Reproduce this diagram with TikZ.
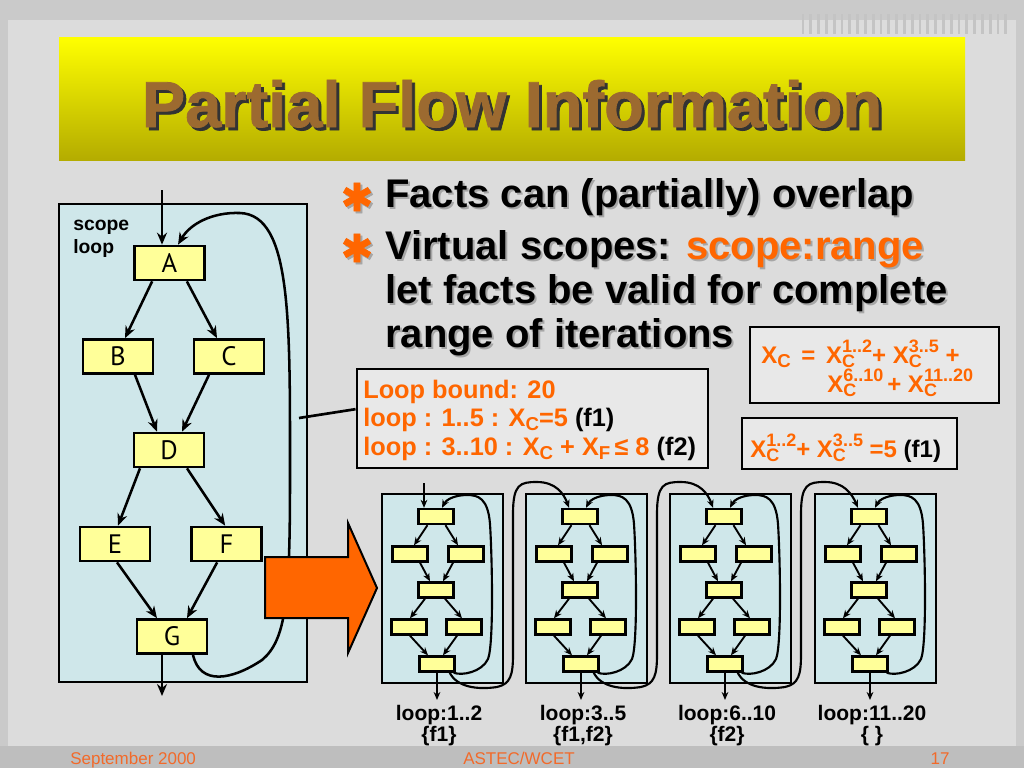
\documentclass[tikz,border=0pt]{standalone}
\usepackage{fontspec}
\setmainfont{Liberation Sans}
\newfontfamily\ptsans{PT Sans}
\newfontfamily\djv{DejaVu Sans}
\usetikzlibrary{arrows.meta}
\definecolor{bgpanel}{HTML}{DCDCDC}
\definecolor{bgouter}{HTML}{CACACA}
\definecolor{bgfoot}{HTML}{BEBEBE}
\definecolor{org}{HTML}{FF6600}
\definecolor{footorg}{HTML}{F26A2A}
\definecolor{nodey}{HTML}{FFFF99}
\definecolor{scopec}{HTML}{CFE7EA}
\definecolor{titlebr}{HTML}{9C6A30}
\definecolor{boxg}{HTML}{E8E8E8}
\definecolor{shadowg}{HTML}{A6A6A6}
\definecolor{stripec}{HTML}{C4C4C4}
\newcommand\subX[1]{X\raisebox{-3.6pt}{\fontsize{14}{14}\selectfont #1}}
\newcommand\supsubX[2]{X\makebox[0pt][l]{\raisebox{-3.4pt}{\fontsize{13.5}{14}\selectfont #1}}\raisebox{8.25pt}{\fontsize{13.5}{14}\selectfont #2}}
\begin{document}
\begin{tikzpicture}[x=0.75pt,y=-0.75pt,
  txt/.style={inner sep=0pt, anchor=base west},
  bignode/.style={draw=black, fill=nodey, line width=2pt, minimum width=52.5pt, minimum height=25.5pt, inner sep=0pt, font=\ptsans\fontsize{20}{20}\selectfont},
  smallnode/.style={draw=black, fill=nodey, line width=1.8pt, minimum width=26.25pt, minimum height=11.25pt, inner sep=0pt},
  scopebox/.style={draw=black, fill=scopec, line width=1.5pt, inner sep=0pt},
  factbox/.style={draw=black, fill=boxg, line width=2.2pt, inner sep=0pt},
  bigedge/.style={line width=1.9pt, -{Stealth[length=9pt,width=7.5pt]}},
  smalledge/.style={line width=1.4pt, -{Stealth[length=6pt,width=5pt]}},
  loopedge/.style={line width=1.6pt, -{Stealth[length=6pt,width=5pt]}},
  boxfont/.style={font=\bfseries\fontsize{18}{20}\selectfont, text=org},
  lbfont/.style={font=\bfseries\fontsize{19}{20}\selectfont, text=org},
  bulfont/.style={font=\bfseries\fontsize{30}{32}\selectfont},
  astfont/.style={font=\djv\fontsize{29}{29}\selectfont\addfontfeature{FakeBold=1.5}},
  labfont/.style={font=\bfseries\fontsize{15.75}{17}\selectfont},
  footfont/.style={font=\fontsize{12.75}{14}\selectfont, text=footorg}
]
\useasboundingbox (0,0) rectangle (1024,768);
% background
\fill[bgouter] (0,0) rectangle (1024,768);
\fill[bgpanel] (8,20) rectangle (1016,746);
\fill[bgfoot] (0,746) rectangle (1024,768);
\foreach \k in {0,...,26} {
  \draw[stripec, line width=2.2pt] ({803+\k*7.8},14) -- ({803+\k*7.8},34);
}
% title band
\shade[top color={rgb,255:red,255;green,255;blue,0}, middle color={rgb,255:red,238;green,232;blue,0}, bottom color={rgb,255:red,180;green,172;blue,0}] (59,37) rectangle (965,160);
\node[txt, anchor=base, text=black!80, font=\bfseries\fontsize{48.75}{50}\selectfont\addfontfeature{FakeBold=1.2}] (titleshadow) at (515,130) {Partial Flow Information};
\node[txt, anchor=base, text=titlebr, font=\bfseries\fontsize{48.75}{50}\selectfont\addfontfeature{FakeBold=1.2}] (title) at (512,127) {Partial Flow Information};

% bullets
\node[txt, anchor=center, text=shadowg, astfont] (ast1s) at (359,199) {✱};
\node[txt, anchor=center, text=org, astfont] (ast1) at (357,197) {✱};
\node[txt, anchor=center, text=shadowg, astfont] (ast2s) at (359,250) {✱};
\node[txt, anchor=center, text=org, astfont] (ast2) at (357,248) {✱};
\node[txt, bulfont, text=shadowg] (t1s) at (387,209) {Facts can (partially) overlap};
\node[txt, bulfont] (t1) at (385,207) {Facts can (partially) overlap};
\node[txt, bulfont, text=shadowg] (t2s) at (387,261) {Virtual scopes: scope:range};
\node[txt, bulfont] (t2) at (385,259) {Virtual scopes: \textcolor{org}{scope:range}};
\node[txt, bulfont, text=shadowg] (t3s) at (387,305) {let facts be valid for complete};
\node[txt, bulfont] (t3) at (385,303) {let facts be valid for complete};
\node[txt, bulfont, text=shadowg] (t4s) at (387,349) {range of iterations};
\node[txt, bulfont] (t4) at (385,347) {range of iterations};

% big scope box
\node[scopebox, minimum width=186pt, minimum height=358.5pt] (scope) at (183,443) {};
\node[txt, font=\bfseries\fontsize{14.5}{15}\selectfont] (sc1) at (73,230) {scope};
\node[txt, font=\bfseries\fontsize{14.5}{15}\selectfont] (sc2) at (73,253) {loop};
\node[bignode] (A) at (169.5,263) {A};
\node[bignode] (B) at (118,356.5) {B};
\node[bignode] (C) at (229,356.5) {C};
\node[bignode] (D) at (169,450) {D};
\node[bignode] (E) at (115,544) {E};
\node[bignode] (F) at (226.5,544) {F};
\node[bignode] (G) at (172,636.5) {G};
\draw[bigedge] ([xshift=-13pt]A.south) -- ([xshift=5.25pt]B.north);
\draw[bigedge] ([xshift=13pt]A.south) -- ([xshift=-9pt]C.north);
\draw[bigedge] ([xshift=12.75pt]B.south) -- ([xshift=-9pt]D.north);
\draw[bigedge] ([xshift=-15pt]C.south) -- ([xshift=9.75pt]D.north);
\draw[bigedge] ([xshift=-21.75pt]D.south) -- ([xshift=2.25pt]E.north);
\draw[bigedge] ([xshift=13.5pt]D.south) -- ([xshift=-1pt]F.north);
\draw[bigedge] ([xshift=1.5pt]E.south) -- ([xshift=-11.25pt]G.north);
\draw[bigedge] ([xshift=-7pt]F.south) -- ([xshift=11.25pt]G.north);
\coordinate (inA) at (162,190);
\draw[bigedge] (inA) -- (A.north -| inA);
\coordinate (outG) at (162,696);
\draw[bigedge] (G.south -| outG) -- (outG);
\draw[bigedge] ([xshift=15.75pt]G.south) .. controls (200,686) and (232,680) .. (262,660)
  .. controls (286,640) and (290,600) .. (290,480)
  .. controls (290,320) and (292,215) .. (240,213)
  .. controls (212,212) and (190,224) .. ([xshift=6.4pt]A.north);

% orange arrow
\draw[fill=org, line width=1.5pt, line join=miter] (265,557) -- (348,557) -- (348,523) -- (377,588) -- (348,653) -- (348,618) -- (265,618) -- cycle;

% loop bound box
\node[factbox, minimum width=263.25pt, minimum height=74.25pt] (lb) at (532.5,418.5) {};
\coordinate (lbc) at (299,418);
\draw[line width=2pt] (lbc) -- ([yshift=7pt]lb.west);
\node[txt, lbfont] (lb1) at (363,398) {Loop bound: 20};
\node[txt, lbfont] (lb2) at (363,426) {loop : 1..5 : \subX{C}=5 \textcolor{black}{(f1)}};
\node[txt, lbfont] (lb3) at (363,455) {loop : 3..10 : \subX{C} + \subX{F}\,≤ 8 \textcolor{black}{(f2)}};

% X_C box
\node[factbox, minimum width=186.75pt, minimum height=57pt] (xc) at (874.5,365) {};
\node[txt, boxfont] (xc1) at (761,363) {\subX{C} \,=\, \supsubX{C}{1..2}+ \supsubX{C}{3..5} +};
\node[txt, boxfont] (xc2) at (827,392) {\supsubX{C}{6..10}\,+ \supsubX{C}{11..20}};

% f1 box
\node[factbox, minimum width=161.25pt, minimum height=38.25pt] (fb) at (849.5,443.5) {};
\node[txt, boxfont] (fb1) at (750,457) {\supsubX{C}{1..2}+ \supsubX{C}{3..5} =5 \textcolor{black}{(f1)}};

% small diagrams
\foreach \i/\x/\la/\lb in {1/382/{loop:1..2}/{\{f1\}}, 2/526/{loop:3..5}/{\{f1,f2\}}, 3/670/{loop:6..10}/{\{f2\}}, 4/815/{loop:11..20}/{\{ \}}} {
  \node[scopebox, minimum width=90.75pt, minimum height=141.75pt] (box\i) at ({\x+60.5},588.5) {};
  \node[smallnode] (a\i) at ({\x+54},516.5) {};
  \node[smallnode] (b\i) at ({\x+28},554) {};
  \node[smallnode] (c\i) at ({\x+84},554) {};
  \node[smallnode] (d\i) at ({\x+54},590) {};
  \node[smallnode] (e\i) at ({\x+27},627) {};
  \node[smallnode] (f\i) at ({\x+82},627) {};
  \node[smallnode] (g\i) at ({\x+55},664) {};
  \draw[smalledge] ([xshift=-6.4pt]a\i.south) -- ([xshift=3pt]b\i.north);
  \draw[smalledge] ([xshift=7.1pt]a\i.south) -- ([xshift=-6pt]c\i.north);
  \draw[smalledge] ([xshift=7.5pt]b\i.south) -- ([xshift=-4.5pt]d\i.north);
  \draw[smalledge] ([xshift=-9.75pt]c\i.south) -- ([xshift=5.25pt]d\i.north);
  \draw[smalledge] ([xshift=-8.25pt]d\i.south) -- ([xshift=0.75pt]e\i.north);
  \draw[smalledge] ([xshift=6.75pt]d\i.south) -- ([xshift=-1.5pt]f\i.north);
  \draw[smalledge] ([xshift=0.75pt]e\i.south) -- ([xshift=-6.75pt]g\i.north);
  \draw[smalledge] ([xshift=-5.25pt]f\i.south) -- ([xshift=4.5pt]g\i.north);
  \draw[loopedge] ([xshift=-1.5pt]g\i.south east) .. controls ({\x+80},676) and ({\x+100},672) .. ({\x+106},659)
    .. controls ({\x+112},644) and ({\x+110},554) .. ({\x+108},524)
    .. controls ({\x+106},498) and ({\x+96},495) .. ({\x+85},495)
    .. controls ({\x+72},495) and ({\x+64},500) .. ([xshift=4.5pt]a\i.north);
  \coordinate (o\i) at ({\x+55},700);
  \draw[smalledge] (g\i.south) -- (o\i);
  \node[txt, anchor=base, labfont] (la\i) at ({\x+57},720) {\la};
  \node[txt, anchor=base, labfont] (lb\i) at ({\x+57},741) {\lb};
}
\foreach \i/\x/\j in {1/382/2, 2/526/3, 3/670/4} {
  \draw[loopedge] ([xshift=-4.5pt]g\i.south east) .. controls ({\x+75},687) and ({\x+95},690) .. ({\x+115},687)
    .. controls ({\x+129},684) and ({\x+131},674) .. ({\x+131},654)
    -- ({\x+131},514)
    .. controls ({\x+131},484) and ({\x+138},482) .. ({\x+155},482)
    .. controls ({\x+174},482) and ({\x+182},494) .. ([xshift=-8.25pt]a\j.north);
}
\coordinate (in1) at (424,483);
\draw[smalledge] (in1) -- (a1.north -| in1);

% footer
\node[txt, footfont] (foot1) at (70,764) {September 2000};
\node[txt, anchor=base, footfont] (foot2) at (519,764) {ASTEC/WCET};
\node[txt, anchor=base, footfont] (foot3) at (940,764) {17};
\end{tikzpicture}
\end{document}
